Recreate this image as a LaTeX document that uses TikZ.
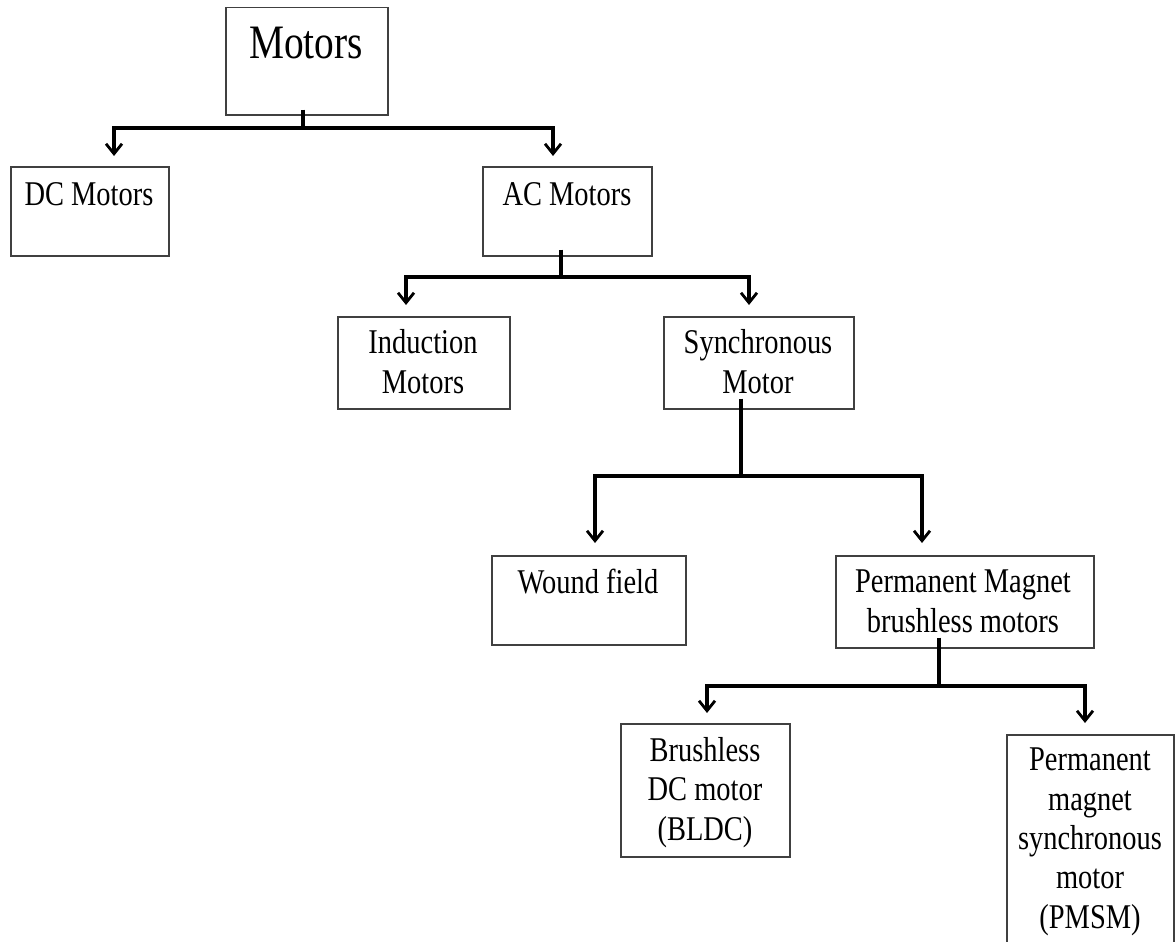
\documentclass[tikz,border=0pt]{standalone}
\usepackage{fontspec}
\setmainfont{Liberation Serif}[FakeStretch=0.82]
\usetikzlibrary{arrows.meta}
\tikzset{
  boxnode/.style={draw=black!75, line width=1.5pt, rectangle, inner sep=0pt},
  txt/.style={inner sep=0pt, anchor=base, align=center, font=\fontsize{34.7}{39.3}\selectfont},
  conn/.style={line width=3.2pt, black},
  arr/.style={conn, -{Straight Barb[length=10pt,width=16pt,line width=2.8pt]}}
}
\begin{document}
\begin{tikzpicture}[x=1pt,y=1pt]
\useasboundingbox (0,0) rectangle (1176,-942);
\clip (0,0) rectangle (1176,-942);
\fill[white] (0,0) rectangle (1176,-942);

% boxes
\node[boxnode, minimum width=162pt, minimum height=107pt, anchor=north west] (top) at (225,-7) {};
\node[boxnode, minimum width=158pt, minimum height=89pt, anchor=north west] (dc) at (10,-166) {};
\node[boxnode, minimum width=169pt, minimum height=89pt, anchor=north west] (ac) at (482,-166) {};
\node[boxnode, minimum width=172pt, minimum height=92pt, anchor=north west] (ind) at (337,-316) {};
\node[boxnode, minimum width=190pt, minimum height=92pt, anchor=north west] (syn) at (663,-316) {};
\node[boxnode, minimum width=194pt, minimum height=89pt, anchor=north west] (wf) at (491,-555) {};
\node[boxnode, minimum width=258pt, minimum height=92pt, anchor=north west] (pm) at (835,-555) {};
\node[boxnode, minimum width=169pt, minimum height=133pt, anchor=north west] (bldc) at (620,-723) {};
\node[boxnode, minimum width=167pt, minimum height=240pt, anchor=north west] (pmsm) at (1006,-734) {};

% texts (base = baseline of last line)
\node[txt, font=\fontsize{48}{54}\selectfont] (ttop) at (306,-59) {Motors};
\node[txt] (tdc) at (89,-205) {DC Motors};
\node[txt] (tac) at (567,-205) {AC Motors};
\node[txt] (tind) at (423,-393) {Induction\\Motors};
\node[txt] (tsyn) at (758,-393) {Synchronous\\Motor};
\node[txt] (twf) at (588,-593) {Wound field};
\node[txt] (tpm) at (963,-632) {Permanent Magnet\\brushless motors};
\node[txt] (tbldc) at (705,-840) {Brushless\\DC motor\\(BLDC)};
\node[txt] (tpmsm) at (1090,-928) {Permanent\\magnet\\synchronous\\motor\\(PMSM)};

% junctions and arrow targets
\coordinate (j1) at (303,-128);
\coordinate (dcin) at (114,-156);
\coordinate (acin) at (553,-156);
\coordinate (j2) at (561,-277);
\coordinate (indin) at (406,-305);
\coordinate (synin) at (749,-305);
\coordinate (j3) at (741,-476);
\coordinate (wfin) at (595,-543);
\coordinate (pmin) at (922,-543);
\coordinate (j4) at (939,-686);
\coordinate (bldcin) at (707,-713);
\coordinate (pmsmin) at (1085,-723);

% connectors
\draw[conn] (j1 |- top.south) ++(0,6) -- (j1);
\draw[arr] (j1) -| (dcin);
\draw[arr] (j1) -| (acin);

\draw[conn] (j2 |- ac.south) ++(0,7) -- (j2);
\draw[arr] (j2) -| (indin);
\draw[arr] (j2) -| (synin);

\draw[conn] (j3 |- syn.south) ++(0,11) -- (j3);
\draw[arr] (j3) -| (wfin);
\draw[arr] (j3) -| (pmin);

\draw[conn] (j4 |- pm.south) ++(0,11) -- (j4);
\draw[arr] (j4) -| (bldcin);
\draw[arr] (j4) -| (pmsmin);
\end{tikzpicture}
\end{document}
